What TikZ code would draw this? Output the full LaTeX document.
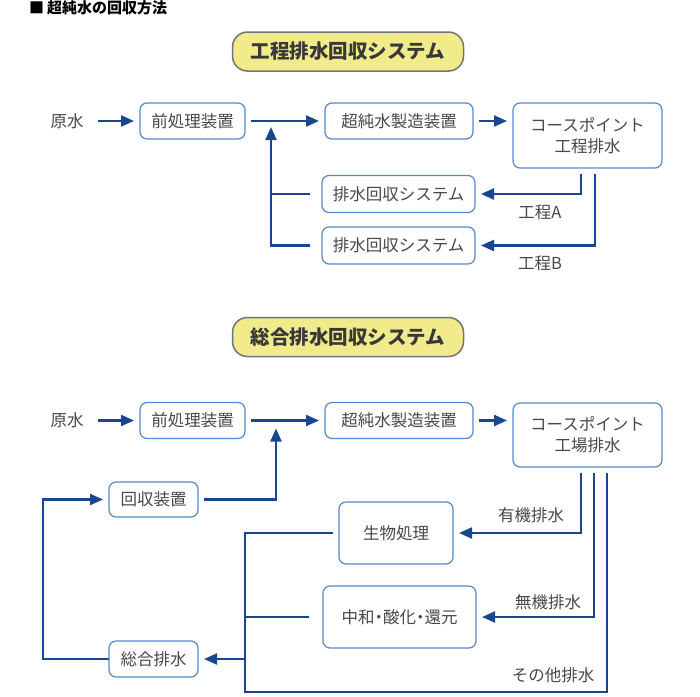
\documentclass[tikz,border=0pt]{standalone}
\usepackage{fontspec}
\usepackage{xcolor}
\usepackage{tikz}
\usetikzlibrary{arrows.meta, positioning, calc}
\newfontfamily\jpfont{Noto Sans CJK JP}
\definecolor{flowColor}{RGB}{24, 70, 145}
\definecolor{boxColor}{RGB}{86, 136, 204}
\definecolor{titleColor}{RGB}{242, 235, 140}
\definecolor{titleLine}{RGB}{115, 115, 115}
\definecolor{textColor}{RGB}{72, 72, 72}
\newcommand{\narrowdot}{\kern-4pt・\kern-4pt}
\tikzset{
    unitBox/.style={draw=boxColor, line width=1.2pt, rounded corners=7pt, fill=white, text=textColor,
        inner sep=0pt, outer sep=6pt, align=center, font=\jpfont\fontsize{16.5}{21}\selectfont},
    titleBox/.style={draw=titleLine, line width=1.5pt, rounded corners=15pt, fill=titleColor, text=black!78,
        minimum width=231pt, minimum height=39pt, inner sep=0pt, font=\jpfont\bfseries\fontsize{19.5}{23}\selectfont},
    plainText/.style={text=textColor, inner sep=0pt, font=\jpfont\fontsize{16.5}{21}\selectfont},
    flowLine/.style={draw=flowColor, line width=2.2pt},
    flowArrow/.style={flowLine, -{Triangle[length=13pt, width=11pt]}},
}

\begin{document}
\begin{tikzpicture}[x=1pt, y=-1pt]
    \useasboundingbox (0,0) rectangle (700,696);

    % Heading
    \node[anchor=west, inner sep=0pt, font=\jpfont\bfseries\fontsize{15}{18}\selectfont] (heading) at (29,8) {■\hspace{3pt}超純水の回収方法};

    % Process drain recovery
    \node[titleBox] (title1) at (348,51.5) {工程排水回収システム};
    \node[plainText] (raw1) at (67,121) {原水};
    \node[unitBox, minimum width=105pt, minimum height=36pt] (pre1) at (192.5,121) {前処理装置};
    \node[unitBox, minimum width=148pt, minimum height=36pt] (upw1) at (399,121) {超純水製造装置};
    \node[unitBox, minimum width=149pt, minimum height=65pt] (course1) at (587.5,135.5) {コースポイント\\工程排水};
    \node[unitBox, minimum width=153pt, minimum height=37pt] (recA) at (398.5,194) {排水回収システム};
    \node[unitBox, minimum width=153pt, minimum height=37pt] (recB) at (398.5,245.5) {排水回収システム};
    \node[plainText] (labA) at (540,212) {工程A};
    \node[plainText] (labB) at (540,263) {工程B};
    \coordinate (join1) at (271,121);

    \draw[flowArrow, shorten <=14pt] (raw1) -- (pre1);
    \draw[flowArrow] (pre1) -- (upw1);
    \draw[flowArrow] (upw1) -- (course1.west |- upw1);
    \draw[flowArrow] ([xshift=-6.5pt]course1.south) |- (recA);
    \draw[flowArrow] ([xshift=7.5pt]course1.south) |- (recB);
    \draw[flowLine, shorten <=6pt] (recA) -- (recA -| join1);
    \draw[flowArrow, shorten <=6pt, shorten >=6pt] (recB) -| (join1);

    % Total drain recovery
    \node[titleBox] (title2) at (348,337) {総合排水回収システム};
    \node[plainText] (raw2) at (67,420.5) {原水};
    \node[unitBox, minimum width=105pt, minimum height=36pt] (pre2) at (192.5,420.5) {前処理装置};
    \node[unitBox, minimum width=148pt, minimum height=36pt] (upw2) at (399,420.5) {超純水製造装置};
    \node[unitBox, minimum width=149pt, minimum height=64pt] (course2) at (587.5,435) {コースポイント\\工場排水};
    \node[unitBox, minimum width=89pt, minimum height=35pt] (kaishu) at (153.5,499.5) {回収装置};
    \node[unitBox, minimum width=114pt, minimum height=62pt] (bio) at (396,533) {生物処理};
    \node[unitBox, minimum width=153pt, minimum height=62pt] (neut) at (399.5,617) {中和\narrowdot 酸化\narrowdot 還元};
    \node[unitBox, minimum width=89pt, minimum height=36pt] (sougou) at (153.5,659) {総合排水};
    \node[plainText] (labOrg) at (531,515) {有機排水};
    \node[plainText] (labInorg) at (548,602) {無機排水};
    \node[plainText] (labOther) at (553,675) {その他排水};
    \coordinate (join2) at (276,420.5);
    \coordinate (busTop) at (245,533);
    \coordinate (busBot) at (245,692);
    \coordinate (loopCorner) at (43,659);

    \draw[flowArrow, shorten <=14pt] (raw2) -- (pre2);
    \draw[flowArrow] (pre2) -- (upw2);
    \draw[flowArrow] (upw2) -- (course2.west |- upw2);
    \draw[flowArrow] ([xshift=-6.5pt]course2.south) |- (bio);
    \draw[flowArrow] ([xshift=6.5pt]course2.south) |- (neut);
    \draw[flowLine] ([xshift=19.5pt]course2.south) |- (busBot) -- (busTop) -- (bio);
    \draw[flowLine, shorten <=8pt] (neut) -- (neut -| busTop);
    \draw[flowArrow] (busTop |- sougou) -- (sougou);
    \draw[flowArrow, shorten <=-6pt] (sougou) -- (loopCorner) |- (kaishu);
    \draw[flowArrow, shorten >=8pt] (kaishu) -| (join2);
\end{tikzpicture}
\end{document}
